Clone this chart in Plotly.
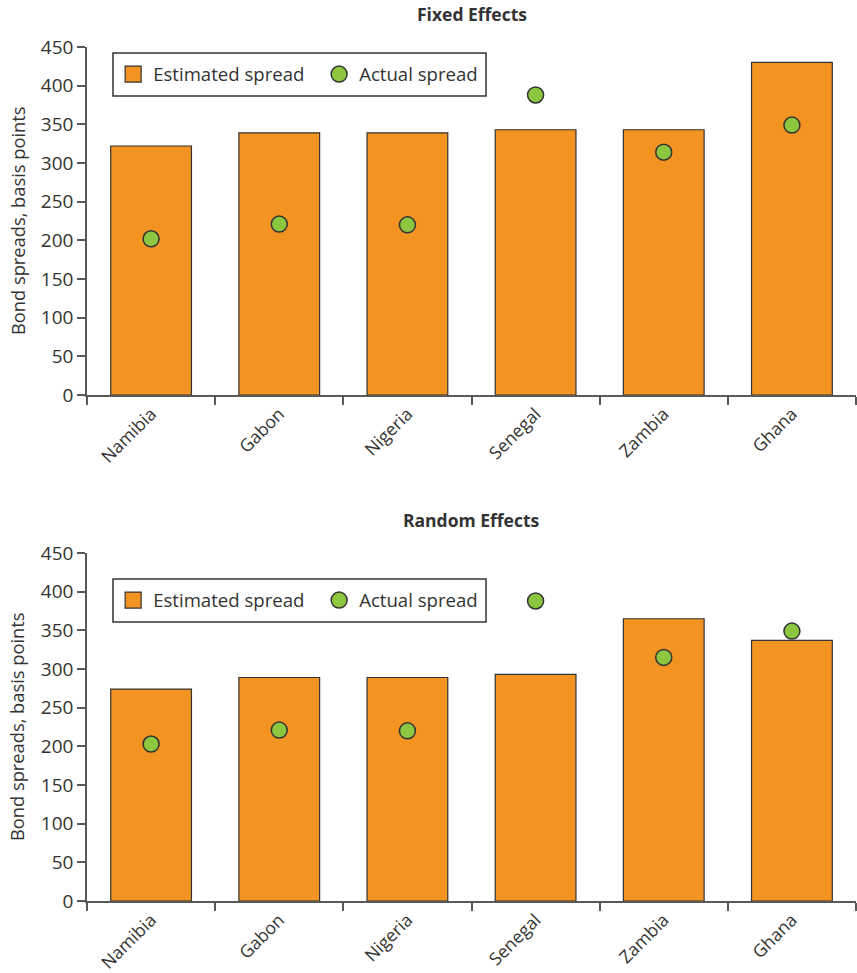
import plotly.graph_objects as go

countries = ["Namibia", "Gabon", "Nigeria", "Senegal", "Zambia", "Ghana"]
fixed_estimated = [322, 339, 339, 343, 343, 430]
fixed_actual = [202, 221, 220, 388, 314, 349]
random_estimated = [274, 289, 289, 293, 365, 337]
random_actual = [203, 221, 220, 388, 315, 349]
y_ticks = [0, 50, 100, 150, 200, 250, 300, 350, 400, 450]

ORANGE = "#F39322"
GREEN = "#8DC63F"
EDGE = "#333333"
TXT = "#333333"
AXIS = "#595959"
FONT = "Open Sans"
NB = "\u00a0"

fig = go.Figure()

panels = [
    ("x", "y", fixed_estimated, fixed_actual, "legend"),
    ("x2", "y2", random_estimated, random_actual, "legend2"),
]
for xa, ya, est, act, leg in panels:
    fig.add_trace(go.Bar(
        x=countries, y=est, name="Estimated spread", xaxis=xa, yaxis=ya,
        marker=dict(color=ORANGE, line=dict(color=EDGE, width=1.2)),
        showlegend=False,
    ))
    # legend proxy with a larger square swatch
    fig.add_trace(go.Scatter(
        x=[None], y=[None], name="Estimated spread" + NB * 2, mode="markers", xaxis=xa, yaxis=ya,
        marker=dict(color=ORANGE, symbol="square", size=16, line=dict(color=EDGE, width=1.2)),
        legend=leg,
    ))
    fig.add_trace(go.Scatter(
        x=countries, y=act, name="Actual spread" + NB * 2, mode="markers", xaxis=xa, yaxis=ya,
        marker=dict(color=GREEN, size=16, line=dict(color=EDGE, width=1.5)),
        legend=leg,
    ))

xcommon = dict(
    type="category", range=[-0.5, 5.5], showline=True, linecolor=AXIS, linewidth=1.5,
    ticks="outside", tickson="boundaries", ticklen=8, tickcolor=AXIS, tickwidth=1.5,
    tickangle=-45, tickfont=dict(family=FONT, size=17.6, color=TXT), showgrid=False,
    zeroline=False, fixedrange=True, automargin=False,
)
ycommon = dict(
    range=[0, 450], tickvals=y_ticks, showline=True, linecolor=AXIS, linewidth=1.5,
    ticks="outside", ticklen=8, tickcolor=AXIS, tickwidth=1.5, showgrid=False,
    zeroline=False, tickfont=dict(family=FONT, size=19, color=TXT), automargin=False,
    fixedrange=True,
)

legcommon = dict(
    orientation="h", x=0.034, xanchor="left", yanchor="middle",
    borderwidth=0, bgcolor="rgba(0,0,0,0)",
    font=dict(family=FONT, size=18.6, color=TXT),
)

TOP_DOM = [0.5925, 1]
BOT_DOM = [0, 0.4075]

box = dict(type="rect", xref="paper", yref="paper", line=dict(color="#333333", width=1.5),
           fillcolor="white", layer="above")

fig.update_layout(
    width=857, height=973,
    margin=dict(l=87, r=1, t=47, b=72),
    paper_bgcolor="white", plot_bgcolor="white",
    bargap=0.37,
    xaxis=dict(domain=[0, 1], anchor="y", **xcommon),
    yaxis=dict(domain=TOP_DOM, anchor="x", **ycommon),
    xaxis2=dict(domain=[0, 1], anchor="y2", **xcommon),
    yaxis2=dict(domain=BOT_DOM, anchor="x2", **ycommon),
    legend=dict(y=0.9678, **legcommon),
    legend2=dict(y=0.3519, **legcommon),
    shapes=[
        dict(x0=0.0338, x1=0.5189, y0=0.9426, y1=0.9930, **box),
        dict(x0=0.0338, x1=0.5189, y0=0.3267, y1=0.3770, **box),
    ],
    annotations=[
        dict(text="<b>Fixed Effects</b>", x=0.5, xref="paper", y=TOP_DOM[1], yref="paper",
             yanchor="middle", yshift=33, showarrow=False,
             font=dict(family=FONT, size=17.5, color=TXT)),
        dict(text="<b>Random Effects</b>", x=0.5, xref="paper", y=BOT_DOM[1], yref="paper",
             yanchor="middle", yshift=33, showarrow=False,
             font=dict(family=FONT, size=17.5, color=TXT)),
        dict(text="Bond spreads, basis points", textangle=-90, x=0, xref="paper", xanchor="center",
             xshift=-70, y=sum(TOP_DOM) / 2, yref="paper", yanchor="middle", showarrow=False,
             font=dict(family=FONT, size=18.3, color=TXT)),
        dict(text="Bond spreads, basis points", textangle=-90, x=0, xref="paper", xanchor="center",
             xshift=-70, y=sum(BOT_DOM) / 2, yref="paper", yanchor="middle", showarrow=False,
             font=dict(family=FONT, size=18.3, color=TXT)),
    ],
)

fig.write_html("out.html", config={"displayModeBar": False},
               post_script="document.body.style.margin='0';")
